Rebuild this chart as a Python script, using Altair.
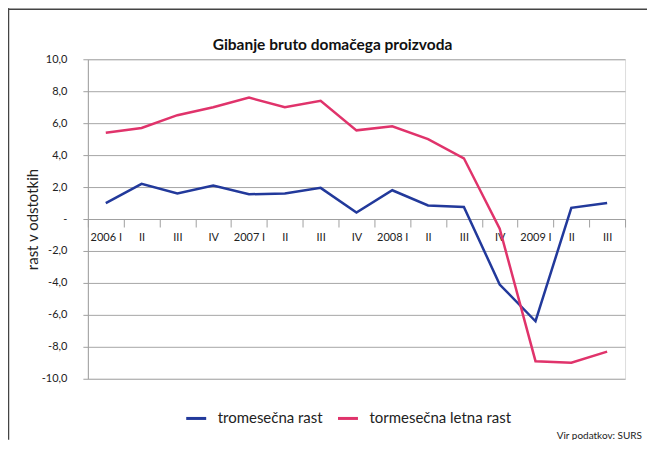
import altair as alt
import pandas as pd

quarters = ["2006 I", "2006 II", "2006 III", "2006 IV",
            "2007 I", "2007 II", "2007 III", "2007 IV",
            "2008 I", "2008 II", "2008 III", "2008 IV",
            "2009 I", "2009 II", "2009 III"]
quarterly = [1.0, 2.2, 1.6, 2.1, 1.55, 1.6, 1.95, 0.4, 1.8, 0.85, 0.75, -4.1, -6.4, 0.7, 1.0]
yearly = [5.4, 5.7, 6.5, 7.0, 7.6, 7.0, 7.4, 5.55, 5.8, 5.0, 3.8, -0.6, -8.9, -9.0, -8.3]
series = ["tromesečna rast", "tormesečna letna rast"]
colors = ["#22399b", "#e0336b"]
y_ticks = [-10, -8, -6, -4, -2, 0, 2, 4, 6, 8, 10]
title_text = "Gibanje bruto domačega proizvoda"
source_text = "Vir podatkov: SURS"

FONT = "Lato"
W, H = 538, 320

rows = []
for q, a, b in zip(quarters, quarterly, yearly):
    rows.append({"q": q, "s": series[0], "v": a})
    rows.append({"q": q, "s": series[1], "v": b})
df = pd.DataFrame(rows)

x_enc = alt.X(
    "q:O", sort=quarters, bandPosition=0.5,
    scale=alt.Scale(type="band", paddingInner=0, paddingOuter=0),
    axis=alt.Axis(
        title=None, offset=-160, tickBand="extent", grid=False,
        domainColor="#a0a0a0", tickColor="#a0a0a0", tickSize=8,
        labelAngle=0, labelFont=FONT, labelFontSize=11, labelColor="#222",
        labelPadding=5,
        labelExpr="split(datum.value,' ')[1] == 'I' ? datum.value : split(datum.value,' ')[1]",
    ),
)
y_enc = alt.Y(
    "v:Q",
    scale=alt.Scale(domain=[-10, 10], nice=False, zero=False),
    axis=alt.Axis(
        values=y_ticks, title="rast v odstotkih", titleFont=FONT, titleFontSize=15,
        titleFontWeight="normal", titleColor="#222", titlePadding=1,
        labelFont=FONT, labelFontSize=11, labelColor="#222", labelPadding=16,
        labelExpr="datum.value == 0 ? '-' : replace(replace(format(datum.value, '.1f'), '.', ','), '\u2212', '-')",
        grid=True, gridColor="#a6a6a6", gridWidth=1,
        domainColor="#a0a0a0", tickColor="#a0a0a0", tickSize=5,
    ),
)

lines = alt.Chart(df).mark_line(strokeWidth=2.5).encode(
    x=x_enc,
    y=y_enc,
    color=alt.Color(
        "s:N", sort=series,
        scale=alt.Scale(domain=series, range=colors),
        legend=alt.Legend(
            title=None, orient="none", direction="horizontal", legendX=97, legendY=348,
            symbolType="stroke", symbolSize=400, symbolStrokeWidth=3,
            labelFont=FONT, labelFontSize=15, labelColor="#222", labelOffset=10,
            columnPadding=8, padding=0,
        ),
    ),
)

title = alt.Chart(pd.DataFrame({"t": [title_text]})).mark_text(
    font=FONT, fontSize=15.5, fontWeight="bold", color="#111", align="center", baseline="alphabetic"
).encode(x=alt.value(245), y=alt.value(-9), text="t:N")

source = alt.Chart(pd.DataFrame({"t": [source_text]})).mark_text(
    font=FONT, fontSize=10, color="#222", align="right", baseline="middle"
).encode(x=alt.value(555), y=alt.value(377), text="t:N")

frame_df = pd.DataFrame({"k": [1]})
top_line = alt.Chart(frame_df).mark_rule(color="#444", strokeWidth=1.5).encode(
    x=alt.value(-80), x2=alt.value(W + 22), y=alt.value(-50)
)
left_line = alt.Chart(frame_df).mark_rule(color="#444", strokeWidth=1.5).encode(
    x=alt.value(-79.5), y=alt.value(-51), y2=alt.value(H + 61)
)

chart = alt.layer(lines, title, source, top_line, left_line).properties(
    width=W, height=H,
    autosize=alt.AutoSizeParams(type="none"),
    padding={"left": 80, "top": 51, "right": 22, "bottom": 61},
).configure_view(stroke=None).configure(background="white")

chart.save("out.html", embed_options={"renderer": "svg", "actions": False})
